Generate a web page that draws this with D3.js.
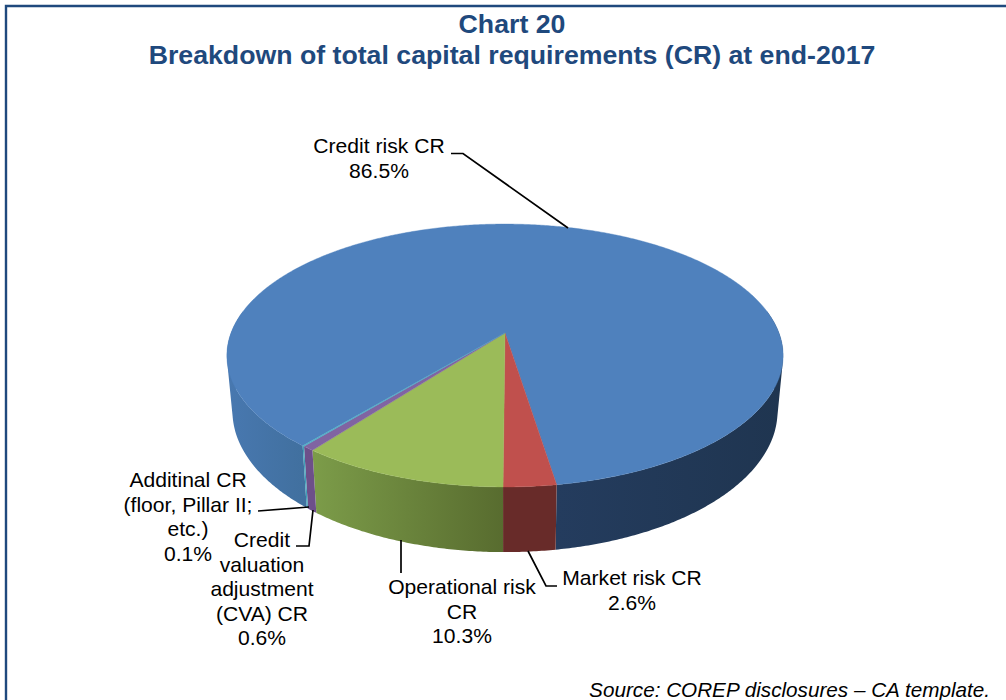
<!DOCTYPE html>
<html>
<head>
<meta charset="utf-8">
<script src="https://cdn.jsdelivr.net/npm/d3@7"></script>
<style>
  html, body { margin: 0; padding: 0; background: #fff; overflow: hidden; }
  text { font-family: "Liberation Sans", Arial, sans-serif; }
</style>
</head>
<body>
<svg id="chart" width="1006" height="700"></svg>
<script>
// values, in drawing order (clockwise)
const categories = ['Credit risk CR', 'Market risk CR', 'Operational risk CR', 'Credit valuation adjustment (CVA) CR', 'Additinal CR (floor, Pillar II; etc.)'];
const shares = [86.5, 2.6, 10.3, 0.6, 0.1];
const titleLines = ['Chart 20', 'Breakdown of total capital requirements (CR) at end-2017'];
const sourceText = 'Source: COREP disclosures – CA template.';

const topColors = ['#4f81bd', '#c0504d', '#9bbb59', '#8064a2', '#4bacc6'];
// side shading, left to right on screen
const sideColors = [
  ['#243c5e', '#1f3550'],
  ['#682b29', '#682b29'],
  ['#7c9c49', '#586c2f'],
  ['#6d4f8a', '#6d4f8a'],
  ['#3fa0b8', '#3fa0b8']
];
const creditLeftColors = ['#4878b0', '#41709f'];

// label text and leaders are placed by hand, like in the original
const labels = [
  { x: 379, y: 153, lines: ['Credit risk CR', '86.5%'], leader: [[451, 153.5], [463, 153.5], [568, 228]] },
  { x: 632, y: 585, lines: ['Market risk CR', '2.6%'], leader: [[528, 551], [546, 586], [557, 586]] },
  { x: 462, y: 594, lines: ['Operational risk', 'CR', '10.3%'], leader: [[401, 540], [401, 573]] },
  { x: 262, y: 547, lines: ['Credit', 'valuation', 'adjustment', '(CVA) CR', '0.6%'], leader: [[313, 510], [309, 546], [296, 546]] },
  { x: 188, y: 487, lines: ['Additinal CR', '(floor, Pillar II;', 'etc.)', '0.1%'], leader: [[258, 511], [309, 507]] }
];

const width = 1006;
const height = 700;
const lineHeight = 24.5;
const deg = Math.PI / 180;

const svg = d3.select('#chart');
const defs = svg.append('defs');

svg.append('path')
  .attr('d', `M6,${height}V6H${width}`)
  .attr('fill', 'none')
  .attr('stroke', '#1f497d')
  .attr('stroke-width', 2.4);

svg.append('g').selectAll('text')
  .data(titleLines)
  .enter().append('text')
    .attr('x', 512)
    .attr('y', (d, i) => 33 + i * 31)
    .attr('text-anchor', 'middle')
    .attr('font-size', 26.7)
    .attr('font-weight', 'bold')
    .attr('fill', '#1f497d')
    .text(d => d);

// perspective view of the disc, angle 0 is straight up, clockwise
const cx = 505, cy = 333;
const rx = 274, ry = 127.6, eye = 5.84, wall = 54, shrink = 0.98;

function project(a, bottom) {
  let s = eye / (eye + Math.cos(a));
  if (!bottom) return [cx + rx * Math.sin(a) * s, cy - ry * Math.cos(a) * s];
  return [cx + rx * shrink * Math.sin(a) * s, cy - ry * Math.cos(a) * s + wall * s];
}

let startAngle = -140.1 * deg;
let slices = d3.pie()
  .sort(null)
  .startAngle(startAngle)
  .endAngle(startAngle + 2 * Math.PI)(shares);

const step = Math.PI / 360;
const line = d3.line();
let sides = svg.append('g');
let gradId = 0;

// the wall is one path of many quads, filled with a gradient along x
function drawSide(a0, a1, colors) {
  let angles = d3.range(a0, a1, step).concat([a1]);
  let d = d3.pairs(angles)
    .map(([p, q]) => {
      let quad = [project(p), project(q), project(q, true), project(p, true)];
      // same winding for all, or the overlaps near the silhouette cancel out
      if (d3.polygonArea(quad) < 0) quad.reverse();
      return line(quad) + 'Z';
    })
    .join('');
  let xs = angles.map(a => project(a)[0]);
  let id = 'side' + (gradId++);
  let grad = defs.append('linearGradient')
    .attr('id', id)
    .attr('gradientUnits', 'userSpaceOnUse')
    .attr('x1', d3.min(xs)).attr('x2', d3.max(xs))
    .attr('y1', 0).attr('y2', 0);
  grad.append('stop').attr('offset', 0).attr('stop-color', colors[0]);
  grad.append('stop').attr('offset', 1).attr('stop-color', colors[1]);
  sides.append('path')
    .attr('d', d)
    .attr('fill', `url(#${id})`);
}

// credit risk wraps round the back, so its wall shows on both sides of the other slices
drawSide(80 * deg, slices[0].endAngle, sideColors[0]);
drawSide(slices[0].startAngle + 2 * Math.PI, 280 * deg, creditLeftColors);

slices.slice(1).forEach((d, i) => drawSide(d.startAngle, d.endAngle, sideColors[i + 1]));

// top faces
let tops = svg.append('g');
slices.forEach((d, i) => {
  let pts = d3.range(d.startAngle, d.endAngle, step).concat([d.endAngle]).map(a => project(a));
  tops.append('path')
    .attr('d', line([[cx, cy]].concat(pts)) + 'Z')
    .attr('fill', topColors[i])
    .attr('stroke', topColors[i])
    .attr('stroke-width', 0.4);
});

// leaders and labels
let lab = svg.append('g');
labels.forEach(l => {
  lab.append('path')
    .attr('d', line(l.leader))
    .attr('fill', 'none')
    .attr('stroke', '#000')
    .attr('stroke-width', 1.7);
  l.lines.forEach((t, i) => {
    lab.append('text')
      .attr('x', l.x)
      .attr('y', l.y + i * lineHeight)
      .attr('text-anchor', 'middle')
      .attr('font-size', 21.1)
      .attr('fill', '#000')
      .text(t);
  });
});

svg.append('text')
  .attr('x', 990)
  .attr('y', 697)
  .attr('text-anchor', 'end')
  .attr('font-size', 20.7)
  .attr('font-style', 'italic')
  .attr('fill', '#000')
  .text(sourceText);
</script>
</body>
</html>
